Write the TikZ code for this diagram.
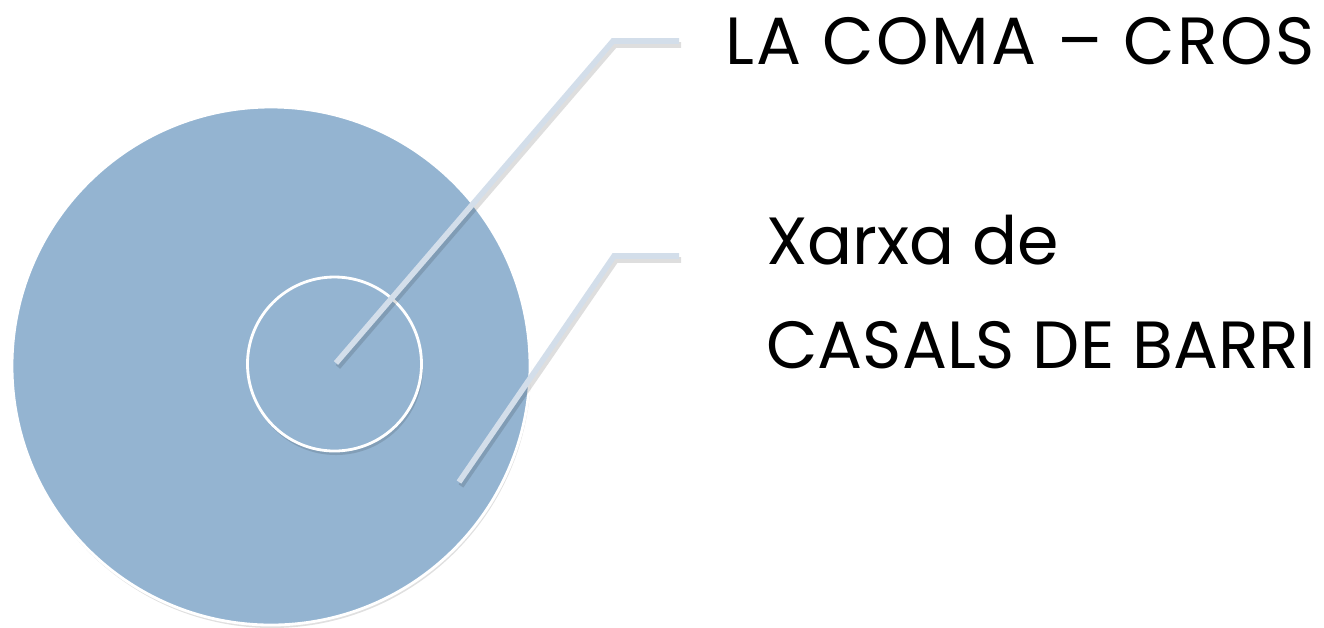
\documentclass[tikz,border=0pt]{standalone}
\usepackage{fontspec}
\setmainfont{Poppins}
\usetikzlibrary{calc}
\definecolor{circfill}{HTML}{94B4D1}
\definecolor{linecol}{HTML}{D3DEEA}
\tikzset{
  px/.style={x=0.02cm,y=-0.02cm},
  ring/.style={draw=white,line width=1.6pt,fill=circfill},
  ringshadow/.style={fill=black,opacity=0.12},
  leader/.style={draw=linecol,line width=3.2pt,line join=miter},
  leadershadow/.style={draw=black,opacity=0.13,line width=3.2pt},
  lbl/.style={anchor=base west,inner sep=0pt,font=\fontsize{38}{45}\selectfont,text=black}
}
\begin{document}
\begin{tikzpicture}[px]
\useasboundingbox (0,0) rectangle (1324,627);
% big circle
\fill[ringshadow] (272,369) circle (259);
\path[ring] (271,366) circle (259);
\node[circle,minimum size=1pt,inner sep=0pt] (big) at (271,366) {};
% small circle
\fill[ringshadow] (336,368) circle (87);
\path[ring] (334.5,364) circle (87);
\coordinate (p1) at (336,363);
\coordinate (c1) at (613,41);
\coordinate (e1) at (679,41);
\coordinate (p2) at (459,482);
\coordinate (c2) at (614,256);
\coordinate (e2) at (679,256);
% leader shadows
\draw[leadershadow] ($(p1)+(2,4)$) -- ($(c1)+(2,4)$) -- ($(e1)+(2,4)$);
\draw[leadershadow] ($(p2)+(2,4)$) -- ($(c2)+(2,4)$) -- ($(e2)+(2,4)$);
% leaders
\draw[leader] (p1) -- (c1) -- (e1);
\draw[leader] (p2) -- (c2) -- (e2);
% labels
\node[lbl] (t1) at (725,64) {\addfontfeature{LetterSpace=4}LA COMA – CROS};
\node[lbl] (t2) at (766,264) {Xarxa de};
\node[lbl] (t3) at (766,368) {CASALS DE BARRI};
\end{tikzpicture}
\end{document}
